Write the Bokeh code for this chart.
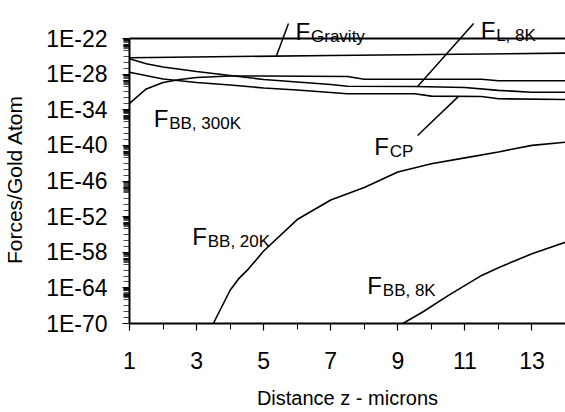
import numpy as np
from bokeh.plotting import figure
from bokeh.models import Range1d, FixedTicker, CustomJSTickFormatter, Label, Span, Arrow
from bokeh.embed import file_html
from bokeh.resources import INLINE

# ---- data ----
z_gravity = [1, 7, 14]
f_gravity = [5.6e-26, 1.4e-25, 3.4e-25]

z_l8k = [1, 1.5, 2, 3, 4, 5, 6, 7, 7.5, 9.5, 11, 12, 13, 14]
f_l8k = [3.8e-26, 5.5e-27, 1.6e-27, 2.8e-28, 5.9e-29, 1.26e-29, 4.8e-30, 1.8e-30,
         9.3e-31, 8.3e-31, 5.6e-31, 1.8e-31, 9.1e-32, 9.1e-32]

z_cp = [1, 2, 3, 4, 5, 6, 7, 7.5, 9.5, 10, 11.5, 12, 14]
f_cp = [2.1e-28, 1.5e-29, 3.9e-30, 1.5e-30, 4.7e-31, 2.1e-31, 8.1e-32, 4.9e-32,
        4.9e-32, 1.95e-32, 1.7e-32, 7.1e-33, 5.4e-33]

z_bb300 = [1, 1.5, 2, 2.5, 3, 4, 5, 7.5, 8, 11.5, 12, 14]
f_bb300 = [1.15e-33, 3.2e-31, 3.9e-30, 1.26e-29, 2.7e-29, 4.9e-29, 4.7e-29, 4.0e-29,
           1.4e-29, 1.4e-29, 7.6e-30, 7.6e-30]

z_bb20 = [3.5, 4, 4.25, 4.55, 5, 6, 7, 8, 9, 10, 11, 12, 13, 14]
f_bb20 = [1e-70, 4.0e-65, 3.2e-63, 1.6e-61, 1.6e-58, 3.2e-53, 6.3e-50, 7.9e-48,
          3.2e-45, 7.9e-44, 7.9e-43, 7.9e-42, 1.0e-40, 3.5e-40]

z_bb8 = [9.15, 9.73, 10.5, 11.5, 12, 13, 14]
f_bb8 = [1e-70, 7.9e-69, 5.0e-66, 1.26e-62, 2.5e-61, 5.6e-59, 5.0e-57]

x_major = [1, 3, 5, 7, 9, 11, 13]
x_minor = [2, 4, 6, 8, 10, 12, 14]
y_major_exp = [-70, -64, -58, -52, -46, -40, -34, -28, -22]

FONT = "Liberation Sans"

# axis spans 1E-70 .. 1E-22; the frame is extended upward so the labels sit inside it
y_top = 10 ** (-22 + 38 / 5.9375)
p = figure(width=565, height=412, output_backend="svg", toolbar_location=None,
           y_axis_type="log", x_range=Range1d(1, 14), y_range=Range1d(1e-70, y_top),
           min_border_left=129, min_border_right=0, min_border_top=0, min_border_bottom=89)
p.outline_line_color = None
p.grid.visible = False
p.background_fill_color = "white"
p.border_fill_color = "white"

# y ticks
y_major = [float(f"1e{e}") for e in y_major_exp]
y_minor = []
for m in y_major_exp[1:]:
    for d in (m - 1, m - 2):
        for k in range(1, 10):
            y_minor.append(float(f"{k}e{d}"))
    for d in (m - 3, m - 4, m - 5):
        y_minor.append(float(f"1e{d}"))
p.yaxis.ticker = FixedTicker(ticks=y_major, minor_ticks=y_minor)
p.yaxis.formatter = CustomJSTickFormatter(code="return '1E' + Math.round(Math.log10(tick));")
p.yaxis.bounds = (1e-70, 1e-22)
p.xaxis.ticker = FixedTicker(ticks=x_major, minor_ticks=x_minor)

for ax in (p.xaxis, p.yaxis):
    ax.axis_line_width = 2
    ax.axis_line_color = "black"
    ax.major_tick_line_color = "black"
    ax.minor_tick_line_color = "black"
    ax.major_tick_line_width = 1.2
    ax.major_tick_in = 0
    ax.minor_tick_in = 0
    ax.major_tick_out = 7
    ax.minor_tick_out = 6
    ax.major_label_text_font = FONT
    ax.major_label_text_font_size = "23px"
    ax.major_label_text_color = "black"
    ax.axis_label_text_font = FONT
    ax.axis_label_text_font_size = "20px"
    ax.axis_label_text_font_style = "normal"
    ax.axis_label_text_color = "black"
p.xaxis.minor_tick_line_width = 1
p.yaxis.minor_tick_line_width = 0.7
p.yaxis.axis_label_text_font_size = "21px"

p.yaxis.major_label_standoff = 15
p.xaxis.major_label_standoff = 21
# trailing no-break spaces keep the title centred on the 1E-70..1E-22 span
p.yaxis.axis_label = "Forces/Gold Atom" + "\u00a0" * 6
p.xaxis.axis_label = "Distance z - microns"
p.yaxis.axis_label_standoff = 17
p.xaxis.axis_label_standoff = 15

p.add_layout(Span(location=1e-22, dimension="width", line_color="black", line_width=2))

series = [(z_gravity, f_gravity), (z_l8k, f_l8k), (z_cp, f_cp),
          (z_bb300, f_bb300), (z_bb20, f_bb20), (z_bb8, f_bb8)]
for zs, fs in series:
    p.line(zs, fs, line_color="black", line_width=1.6)

# labels: (main x, baseline log10 y, subscript)
labels = [
    (5.95, -20.82, "Gravity"),
    (11.47, -20.65, "L, 8K"),
    (8.30, -40.18, "CP"),
    (1.72, -35.52, "BB, 300K"),
    (2.87, -55.33, "BB, 20K"),
    (8.09, -63.58, "BB, 8K"),
]
for lx, ly, sub in labels:
    p.add_layout(Label(x=lx, y=10 ** ly, text="F", text_font=FONT, text_font_size="24px",
                       text_color="black", text_baseline="alphabetic", text_align="left"))
    p.add_layout(Label(x=lx, y=10 ** ly, x_offset=15.5, y_offset=-5, text=sub, text_font=FONT,
                       text_font_size="17px", text_color="black",
                       text_baseline="alphabetic", text_align="left"))

def on_curve(zs, fs, z):
    return 10 ** np.interp(z, zs, np.log10(fs))

leaders = [
    (5.74, -19.47, 5.38, z_gravity, f_gravity),
    (11.26, -19.47, 9.59, z_l8k, f_l8k),
    (9.59, -38.33, 10.81, z_cp, f_cp),
]
for sx, sy, ex, zs, fs in leaders:
    p.add_layout(Arrow(end=None, x_start=sx, y_start=10 ** sy, x_end=ex,
                       y_end=float(on_curve(zs, fs, ex)), line_color="black", line_width=1.5))

open("out.html", "w").write(file_html(p, INLINE))
